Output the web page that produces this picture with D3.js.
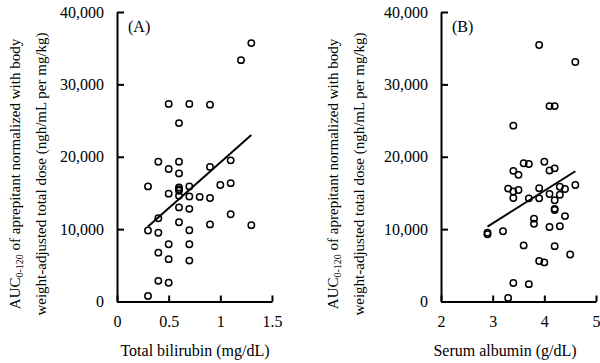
<!DOCTYPE html>
<html>
<head>
<meta charset="utf-8">
<script src="https://cdn.jsdelivr.net/npm/d3@7"></script>
<style>
  body { margin: 0; background: #fff; }
  svg text { font-family: "Liberation Serif", "Times New Roman", serif; fill: #000; }
</style>
</head>
<body>
<svg id="chart" width="600" height="363"></svg>
<script>
// panel A: total bilirubin (mg/dL) vs AUC
var bilirubin = [0.3, 0.4, 0.5, 0.6, 0.6, 0.9, 1.1, 0.3, 0.4, 0.4, 0.5, 0.6, 0.6, 0.6, 0.6,
  0.7, 0.7, 0.8, 0.9, 1.0, 1.1, 0.6, 0.7, 1.1, 0.6, 0.9, 1.3, 0.7, 0.5, 0.7, 0.4, 0.5,
  0.7, 0.4, 0.5, 0.3, 0.5, 0.7, 0.9, 0.6, 1.2, 1.3];
var aucA = [15900, 19300, 18300, 19300, 17700, 18600, 19500, 9800, 11500, 9500, 14900, 15750, 15500, 15300, 14600,
  15900, 14500, 14450, 14300, 16100, 16350, 13000, 12800, 12050, 10950, 10650, 10550, 9850, 7900, 7900, 6750, 5850,
  5650, 2850, 2600, 750, 27300, 27300, 27200, 24650, 33350, 35700];
var fitA = [[0.3, 10350], [1.3, 23000]];

// panel B: serum albumin (g/dL) vs AUC
var albumin = [2.9, 2.9, 3.2, 3.3, 3.4, 3.7, 3.4, 3.5, 3.6, 3.7, 3.3, 3.4, 3.5, 3.4, 3.7,
  3.6, 3.8, 3.8, 3.9, 3.9, 3.9, 4.0, 4.0, 4.1, 4.2, 4.1, 4.3, 4.3, 4.2, 4.4, 4.2, 4.2,
  4.4, 4.1, 4.3, 4.2, 4.5, 4.6, 3.9, 4.6, 4.1, 4.2, 3.4];
var aucB = [9500, 9300, 9700, 500, 2550, 2400, 18050, 17500, 19100, 19000, 15600, 15200, 15400, 14300, 14250,
  7750, 11450, 10750, 15650, 14250, 5600, 5400, 19300, 18100, 18400, 14850, 15850, 14750, 14000, 15550, 12800, 12650,
  11800, 10300, 10400, 7650, 6500, 16100, 35450, 33100, 27000, 27000, 24300];
var fitB = [[2.9, 10350], [4.6, 18000]];

var yTicks = [0, 10000, 20000, 30000, 40000];
var ticksA = [0, 0.5, 1, 1.5];
var ticksB = [2, 3, 4, 5];

var svg = d3.select("#chart");
var fmt = d3.format(",");

var panels = [
  {x0: 117, x1: 272, dom: [0, 1.5], ticks: ticksA, xs: bilirubin, ys: aucA, fit: fitA,
   tag: "(A)", title: "Total bilirubin (mg/dL)", titleX: 195, labX: 15},
  {x0: 441, x1: 596, dom: [2, 5], ticks: ticksB, xs: albumin, ys: aucB, fit: fitB,
   tag: "(B)", title: "Serum albumin (g/dL)", titleX: 505, labX: 333}
];

var y = d3.scaleLinear().domain([0, 40000]).range([301.5, 12]);

panels.forEach(function(p) {
  var x = d3.scaleLinear().domain(p.dom).range([p.x0, p.x1]);
  var g = svg.append("g");

  // axes, ticks point into the plot
  var ya = g.append("g")
    .attr("transform", "translate(" + p.x0 + ",0)")
    .call(d3.axisLeft(y).tickValues(yTicks).tickFormat(fmt).tickSizeInner(-7).tickSizeOuter(0).tickPadding(13));
  var xa = g.append("g")
    .attr("transform", "translate(0," + y(0) + ")")
    .call(d3.axisBottom(x).tickValues(p.ticks).tickFormat(d3.format("")).tickSizeInner(-6).tickSizeOuter(0).tickPadding(14));
  [ya, xa].forEach(function(a) {
    a.select(".domain").attr("stroke", "#000").attr("stroke-width", 2);
    a.selectAll(".tick line").attr("stroke", "#000").attr("stroke-width", 2);
    a.selectAll("text").attr("font-size", 16).attr("font-family", null);
  });

  // points
  g.selectAll("circle")
    .data(p.xs)
    .enter().append("circle")
      .attr("cx", function(d) { return x(d); })
      .attr("cy", function(d, i) { return y(p.ys[i]); })
      .attr("r", 3.2)
      .attr("fill", "none")
      .attr("stroke", "#000")
      .attr("stroke-width", 1.5);

  // regression line
  g.append("path")
    .datum(p.fit)
    .attr("fill", "none")
    .attr("stroke", "#000")
    .attr("stroke-width", 2)
    .attr("d", d3.line().x(function(d) { return x(d[0]); }).y(function(d) { return y(d[1]); }));

  g.append("text")
    .attr("x", p.x0 + 11).attr("y", 32)
    .attr("font-size", 16)
    .text(p.tag);

  g.append("text")
    .attr("x", p.titleX).attr("y", 356)
    .attr("text-anchor", "middle")
    .attr("font-size", 16)
    .text(p.title);

  // y label, two lines
  var lab = g.append("g")
    .attr("transform", "translate(" + p.labX + ",174) rotate(-90)");
  var t1 = lab.append("text").attr("text-anchor", "middle").attr("y", 5).attr("font-size", 15);
  t1.append("tspan").text("AUC");
  t1.append("tspan").attr("font-size", 10).attr("dy", 3).text("0-120");
  t1.append("tspan").attr("dy", -3).text(" of aprepitant normalized with body");
  lab.append("text").attr("text-anchor", "middle").attr("y", 31).attr("font-size", 15)
    .text("weight-adjusted total dose (ngh/mL per mg/kg)");
});
</script>
</body>
</html>
